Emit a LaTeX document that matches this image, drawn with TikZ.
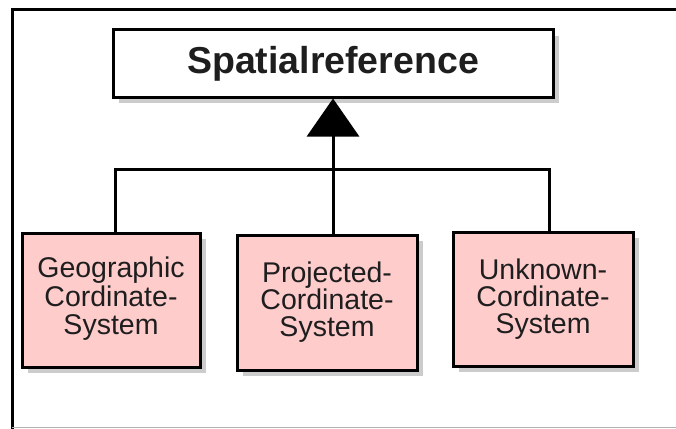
\documentclass[tikz,border=0pt]{standalone}
\usepackage{fontspec}
\setmainfont{Liberation Sans}
\usepackage{xcolor}
\usetikzlibrary{arrows.meta,positioning,shadows}
\definecolor{classpink}{HTML}{FFCCCC}
\definecolor{classtext}{HTML}{1E1E1E}

\begin{document}
\begin{tikzpicture}[x=1pt, y=-1pt]
      \useasboundingbox (0,0) rectangle (676,428);
      % frame
      \draw[line width=3pt] (12,430) -- (12,10) -- (680,10);
      \draw[gray!60, line width=1pt] (12,427) -- (680,427);

      \begin{scope}[every node/.style={rectangle, draw, line width=3pt,
                    text=classtext, align=center,
                    drop shadow={shadow xshift=6pt, shadow yshift=-6pt, fill=black!40}}]
          \node[fill=white, minimum width=440pt, minimum height=67pt,
                font=\fontsize{37.5}{40}\selectfont\bfseries] (sref) at (333,63.5) {Spatialreference};
          \node[fill=classpink, minimum width=178pt, minimum height=134pt,
                font=\fontsize{28.5}{27}\selectfont] (geo) at (111,300)
                {\raisebox{5pt}{\begin{tabular}{@{}c@{}}Geographic\\Cordinate-\\System\end{tabular}}};
          \node[fill=classpink, minimum width=180pt, minimum height=135pt,
                font=\fontsize{28.5}{27}\selectfont] (proj) at (327,302.5) {Projected-\\Cordinate-\\System};
          \node[fill=classpink, minimum width=180pt, minimum height=134pt,
                font=\fontsize{28.5}{27}\selectfont] (unk) at (543,299) {Unknown-\\Cordinate-\\System};
      \end{scope}

      \coordinate (bus) at (333,169);
      \begin{scope}[line width=3pt]
          \draw ([xshift=4pt]geo.north) |- (bus);
          \draw ([xshift=6pt]unk.north) |- (bus);
          \draw ([xshift=6pt]proj.north) -- ([xshift=6pt]proj.north |- bus);
          \path[-{Triangle[width=52pt,length=38pt]}] (bus) edge (sref.south);
      \end{scope}
\end{tikzpicture}
\end{document}
